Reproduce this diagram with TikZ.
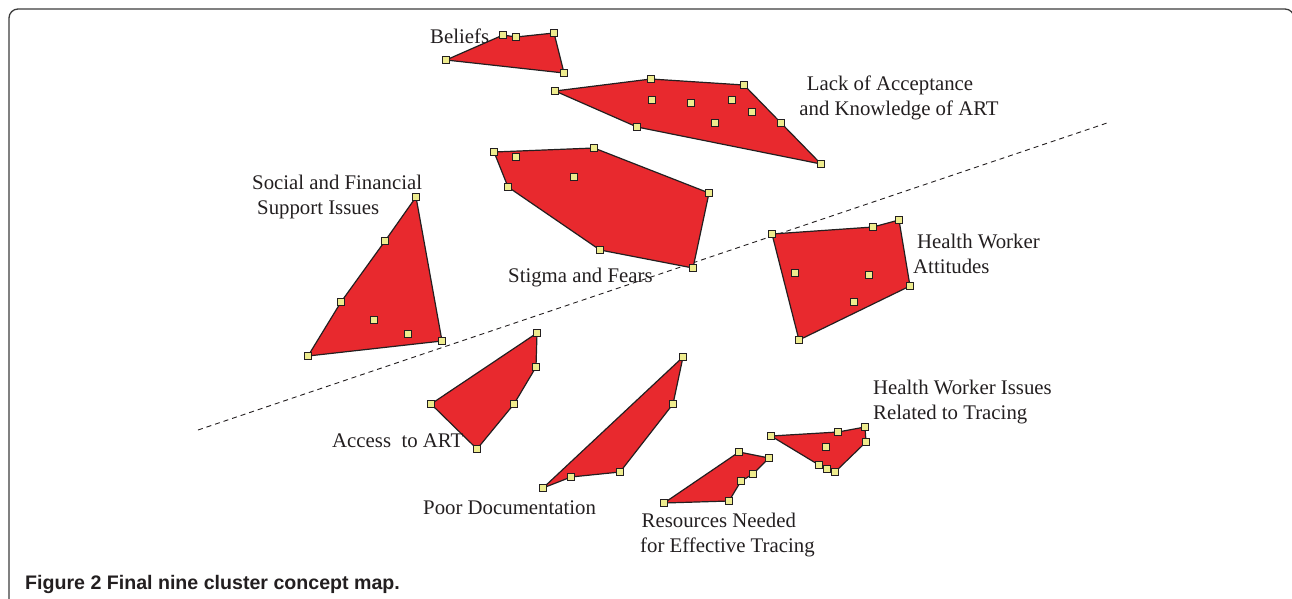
\documentclass[tikz,border=0pt]{standalone}
\usepackage{fontspec}
\setmainfont{Liberation Serif}
\newfontfamily\captionsans{Liberation Sans}
\usepackage{tikz}
\usetikzlibrary{positioning,backgrounds}
\definecolor{clusterred}{HTML}{E8292E}
\definecolor{stmtyellow}{HTML}{EEEC8E}
\definecolor{inkgray}{HTML}{231F20}
\definecolor{framegray}{HTML}{3C3C3C}
\tikzset{
  cluster/.style={draw=inkgray, fill=clusterred, line width=1.2pt, line join=round},
  stmt/.style={rectangle, draw=inkgray, fill=stmtyellow, line width=1pt, minimum size=7pt, inner sep=0pt},
  clabel/.style={font=\fontsize{20.8}{25}\selectfont, text=inkgray, inner sep=0pt, align=left, anchor=base west},
  divider/.style={dash pattern=on 5pt off 4pt, line width=0.9pt, draw=inkgray},
  panel/.style={draw=framegray, line width=1.3pt, rounded corners=9pt}
}

\begin{document}
\begin{tikzpicture}[x=1pt, y=-1pt]
  \useasboundingbox (0,0) rectangle (1292,598);

  % statements of each cluster
  \foreach \n/\x/\y in {be1/446/60, be2/503/35, be3/516/37, be4/554/33, be5/564/73}
    \node[stmt] (\n) at (\x,\y) {};
  \foreach \n/\x/\y in {la1/555/91, la2/651/79, la3/744/85, la4/781/123, la5/821/164, la6/637/127,
                        la7/652/100, la8/691/103, la9/732/100, la10/752/112, la11/715/123}
    \node[stmt] (\n) at (\x,\y) {};
  \foreach \n/\x/\y in {st1/494/152, st2/594/148, st3/709/193, st4/693/268, st5/600/250, st6/508/187,
                        st7/516/157, st8/574/177}
    \node[stmt] (\n) at (\x,\y) {};
  \foreach \n/\x/\y in {so1/416/197, so2/442/341, so3/308/356, so4/341/302, so5/385/241,
                        so6/374/320, so7/408/334}
    \node[stmt] (\n) at (\x,\y) {};
  \foreach \n/\x/\y in {hw1/772/234, hw2/873/227, hw3/899/220, hw4/910/286, hw5/799/340,
                        hw6/795/273, hw7/869/275, hw8/854/302}
    \node[stmt] (\n) at (\x,\y) {};
  \foreach \n/\x/\y in {ac1/537/333, ac2/536/367, ac3/514/404, ac4/477/449, ac5/431/404}
    \node[stmt] (\n) at (\x,\y) {};
  \foreach \n/\x/\y in {pd1/683/357, pd2/673/404, pd3/620/472, pd4/571/477, pd5/543/488}
    \node[stmt] (\n) at (\x,\y) {};
  \foreach \n/\x/\y in {re1/664/503, re2/739/452, re3/769/458, re4/753/474, re5/741/481, re6/729/501}
    \node[stmt] (\n) at (\x,\y) {};
  \foreach \n/\x/\y in {hi1/771/436, hi2/838/432, hi3/865/427, hi4/866/442, hi5/835/472,
                        hi6/827/469, hi7/819/465, hi8/826/447}
    \node[stmt] (\n) at (\x,\y) {};

  % cluster boundaries
  \begin{scope}[on background layer]
    \draw[panel] (9,640) -- (9,9) -- (1294,9) -- (1294,640);
    \coordinate (cutA) at (198,430);
    \coordinate (cutB) at (1107,123);
    \draw[divider] (cutA) -- (cutB);
    \draw[cluster] (be1.center) -- (be2.center) -- (be3.center) -- (be4.center) -- (be5.center) -- cycle;
    \draw[cluster] (la1.center) -- (la2.center) -- (la3.center) -- (la4.center) -- (la5.center) -- (la6.center) -- cycle;
    \draw[cluster] (st1.center) -- (st2.center) -- (st3.center) -- (st4.center) -- (st5.center) -- (st6.center) -- cycle;
    \draw[cluster] (so1.center) -- (so2.center) -- (so3.center) -- (so4.center) -- (so5.center) -- cycle;
    \draw[cluster] (hw1.center) -- (hw2.center) -- (hw3.center) -- (hw4.center) -- (hw5.center) -- cycle;
    \draw[cluster] (ac1.center) -- (ac2.center) -- (ac3.center) -- (ac4.center) -- (ac5.center) -- cycle;
    \draw[cluster] (pd1.center) -- (pd2.center) -- (pd3.center) -- (pd4.center) -- (pd5.center) -- cycle;
    \draw[cluster] (re1.center) -- (re2.center) -- (re3.center) -- (re4.center) -- (re5.center) -- (re6.center) -- cycle;
    \draw[cluster] (hi1.center) -- (hi2.center) -- (hi3.center) -- (hi4.center) -- (hi5.center) -- (hi6.center) -- (hi7.center) -- cycle;
  \end{scope}

  % cluster names (base = last line)
  \node[clabel] (beliefs) at (430,43) {Beliefs};
  \node[clabel, align=center, anchor=base] (lack) at (899,115) {Lack of Acceptance\hspace*{18pt}\\and Knowledge of ART};
  \node[clabel] (stigma) at (508,282) {Stigma and Fears};
  \node[clabel] (social) at (252,214) {Social and Financial\\\hspace*{5pt}Support Issues};
  \node[clabel] (attitudes) at (913,273) {\hspace*{4pt}Health Worker\\Attitudes};
  \node[clabel] (access) at (332,447) {Access\ \ to ART};
  \node[clabel] (poordoc) at (423,514) {Poor Documentation};
  \node[clabel] (resources) at (640,552) {\hspace*{1.5pt}Resources Needed\\for Effective Tracing};
  \node[clabel] (tracing) at (873,419) {Health Worker Issues\\Related to Tracing};

  \node[anchor=base west, inner sep=0pt, text=inkgray, font=\captionsans\bfseries\fontsize{19.6}{22}\selectfont] (caption) at (25,589) {Figure 2 Final nine cluster concept map.};
\end{tikzpicture}
\end{document}
